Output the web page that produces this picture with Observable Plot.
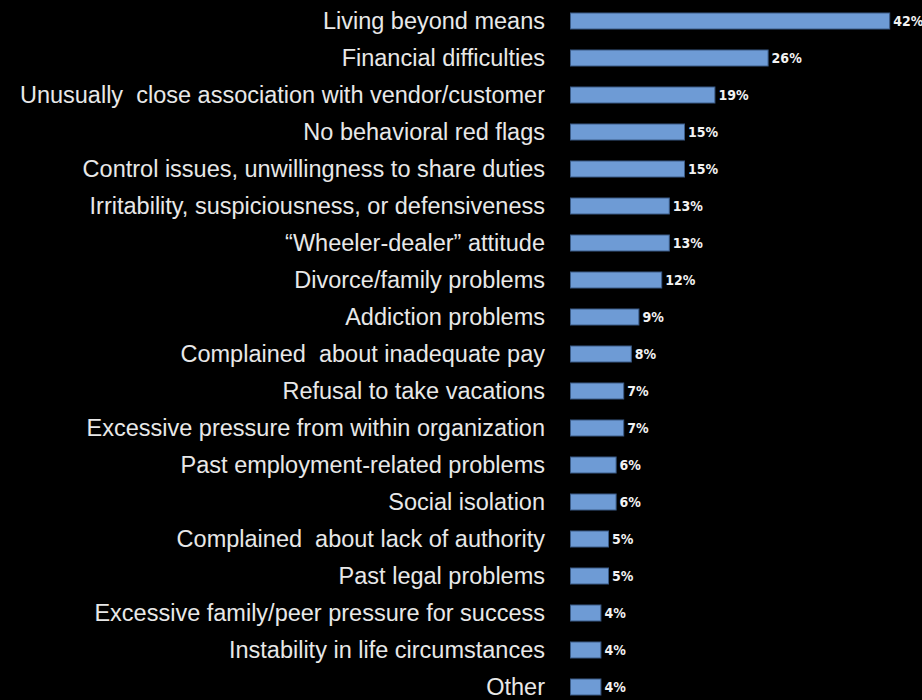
<!DOCTYPE html>
<html><head><meta charset="utf-8">
<script src="https://cdn.jsdelivr.net/npm/d3@7"></script>
<script src="https://cdn.jsdelivr.net/npm/@observablehq/plot@0.6"></script>
<style>
html,body{margin:0;padding:0;background:#000;}
#chart svg{display:block;background:#000;}
#chart text{white-space:pre;}
</style></head>
<body><div id="chart"></div>
<script>
const categories = [
  "Living beyond means",
  "Financial difficulties",
  "Unusually  close association with vendor/customer",
  "No behavioral red flags",
  "Control issues, unwillingness to share duties",
  "Irritability, suspiciousness, or defensiveness",
  "\u201CWheeler-dealer\u201D attitude",
  "Divorce/family problems",
  "Addiction problems",
  "Complained  about inadequate pay",
  "Refusal to take vacations",
  "Excessive pressure from within organization",
  "Past employment-related problems",
  "Social isolation",
  "Complained  about lack of authority",
  "Past legal problems",
  "Excessive family/peer pressure for success",
  "Instability in life circumstances",
  "Other"
];
const values = [42, 26, 19, 15, 15, 13, 13, 12, 9, 8, 7, 7, 6, 6, 5, 5, 4, 4, 4];
const valueLabels = values.map(v => v + "%");

const data = categories.map((c, i) => ({category: c, value: values[i], label: valueLabels[i]}));

const chart = Plot.plot({
  width: 922,
  height: 700,
  marginLeft: 0,
  marginRight: 0,
  marginTop: 10,
  marginBottom: 2,
  style: {background: "#000", color: "#eee"},
  x: {domain: [0, 42], range: [570.5, 889.7], axis: null},
  y: {domain: categories, paddingInner: 0.57, paddingOuter: 0, label: null},
  marks: [
    Plot.barX(data, {y: "category", x: "value", fill: "#6e9bd5", stroke: "#3b5b86", strokeWidth: 1}),
    Plot.text(data, {y: "category", x: "value", text: "label", dx: 3, textAnchor: "start",
      fill: "#f2f2f2", fontSize: 14, fontWeight: "bold",
      fontFamily: "DejaVu Sans Condensed, sans-serif"}),
    Plot.axisY({anchor: "left", x: 0, tickSize: 0, tickPadding: 26, label: null,
      fontSize: 23.5, fontFamily: "Liberation Sans, Arial, sans-serif", fill: "#e8e8e8"})
  ]
});
document.getElementById("chart").appendChild(chart);
d3.select(chart).selectAll("g[aria-label='y-axis tick label']")
  .attr("font-size", 23.5).attr("font-family", "Liberation Sans, Arial, sans-serif").attr("fill", "#e8e8e8");
</script></body></html>
